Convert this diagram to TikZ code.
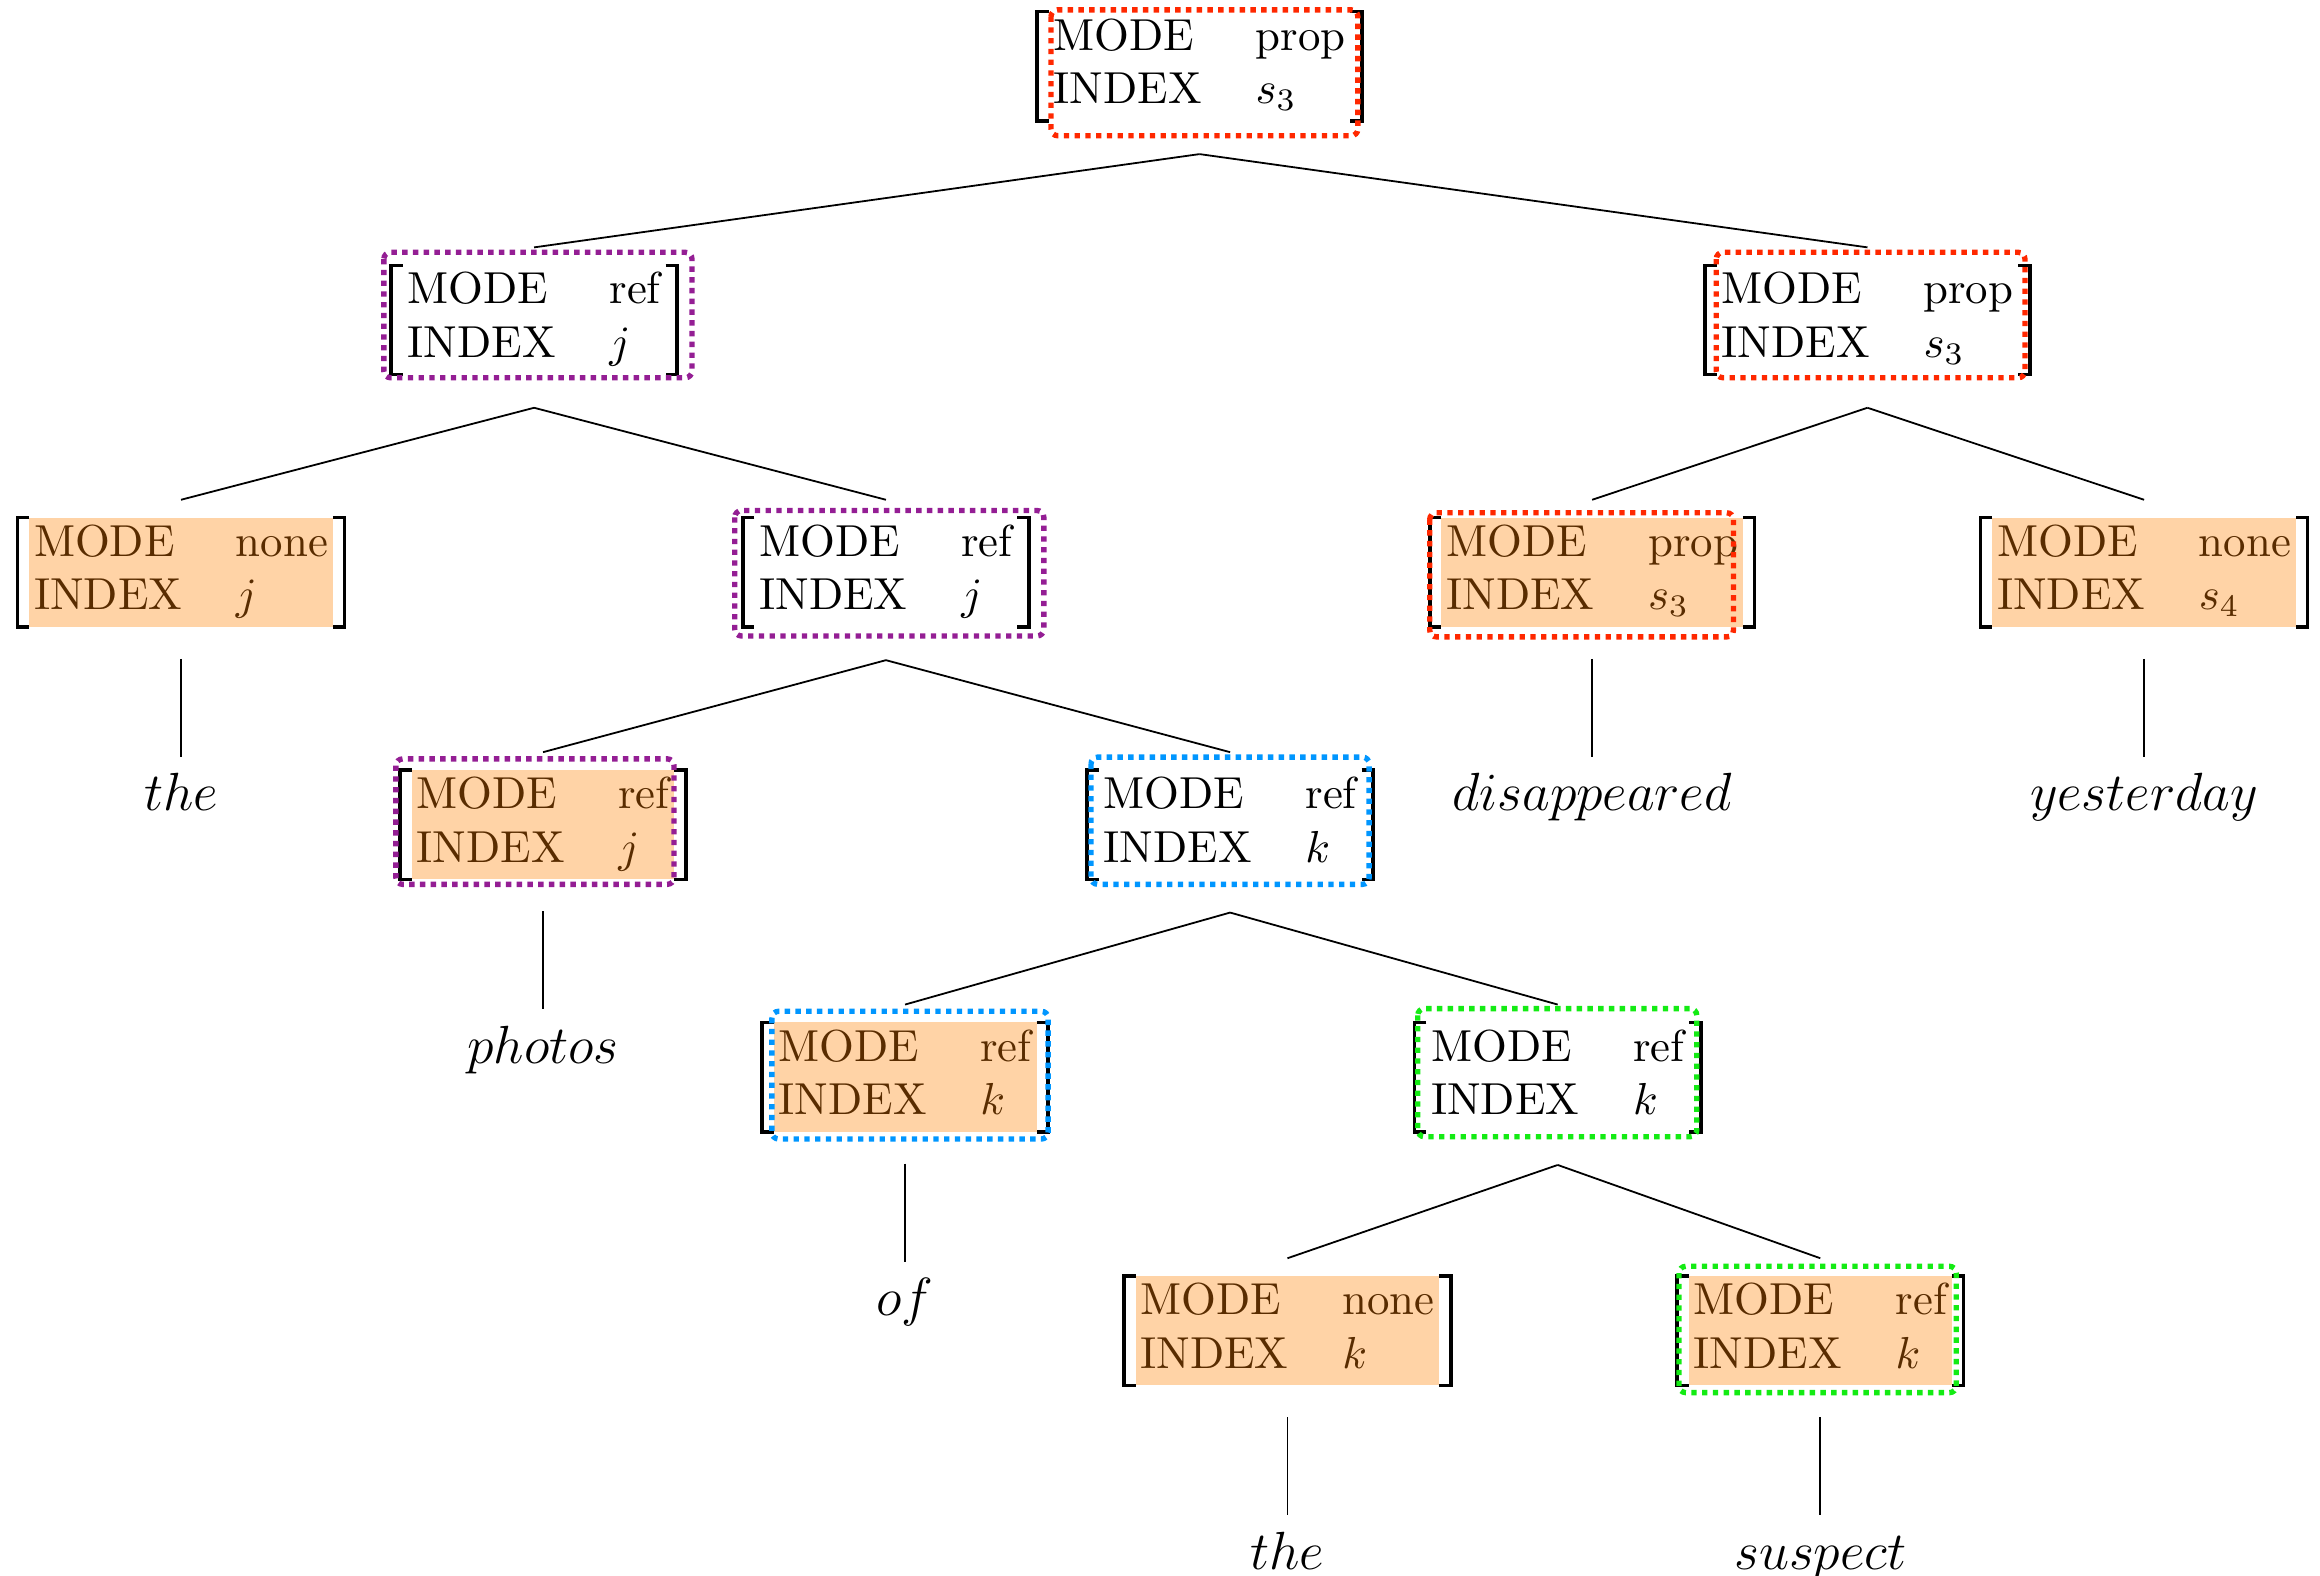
\documentclass[tikz,border=0pt]{standalone}
\usetikzlibrary{positioning}

\definecolor{hlred}{RGB}{255,40,0}
\definecolor{hlpurple}{RGB}{148,30,148}
\definecolor{hlblue}{RGB}{0,150,255}
\definecolor{hlgreen}{RGB}{20,235,20}

\newcommand{\avm}[2]{\begin{tabular}{@{}l@{\hspace{12pt}}l@{}}MODE & #1\\ INDEX & #2\end{tabular}}

\begin{document}
\begin{tikzpicture}[
    avm/.style={inner xsep=3.5pt, inner ysep=0pt},
    word/.style={font=\fontsize{12.5}{15}\selectfont, text height=8.7pt, text depth=2.7pt, inner sep=3.1pt},
    branch/.style={line width=0.4pt},
    bracket/.style={line width=0.8pt},
    shade/.style={fill=orange, fill opacity=0.35},
    hl/.style={line width=1.2pt, dash pattern=on 1.2pt off 1.2pt, rounded corners=1.5pt},
    node distance=29pt]

    \useasboundingbox (0,0) rectangle (18.2,-12.356);

    % 特征结构
    \node[avm] (s)     at (9.41,-0.52)  {\avm{prop}{$s_3$}};
    \node[avm] (np)    at (4.19,-2.51)  {\avm{ref}{$j$}};
    \node[avm] (vp)    at (14.65,-2.51) {\avm{prop}{$s_3$}};
    \node[avm] (det1)  at (1.42,-4.49)  {\avm{none}{$j$}};
    \node[avm] (nbar)  at (6.95,-4.49)  {\avm{ref}{$j$}};
    \node[avm] (verb)  at (12.49,-4.49) {\avm{prop}{$s_3$}};
    \node[avm] (adv)   at (16.82,-4.49) {\avm{none}{$s_4$}};
    \node[avm] (noun)  at (4.26,-6.47)  {\avm{ref}{$j$}};
    \node[avm] (pp)    at (9.65,-6.47)  {\avm{ref}{$k$}};
    \node[avm] (prep)  at (7.10,-8.45)  {\avm{ref}{$k$}};
    \node[avm] (np2)   at (12.22,-8.45) {\avm{ref}{$k$}};
    \node[avm] (det2)  at (10.10,-10.44) {\avm{none}{$k$}};
    \node[avm] (noun2) at (14.28,-10.44) {\avm{ref}{$k$}};

    % 词
    \node[word, below=of det1]  (w-the1)    {$the$};
    \node[word, below=of verb]  (w-dis)     {$disappeared$};
    \node[word, below=of adv]   (w-yes)     {$yesterday$};
    \node[word, below=of noun]  (w-photos)  {$photos$};
    \node[word, below=of prep]  (w-of)      {$of$};
    \node[word, below=of det2]  (w-the2)    {$the$};
    \node[word, below=of noun2] (w-suspect) {$suspect$};

    % 括号
    \foreach \nn in {s, np, vp, det1, nbar, verb, adv, noun, pp, prep, np2, det2, noun2} {
        \draw[bracket] ([xshift=2.6pt]\nn.north west) -- (\nn.north west) -- (\nn.south west) -- ++(2.6pt,0);
        \draw[bracket] ([xshift=-2.6pt]\nn.north east) -- (\nn.north east) -- (\nn.south east) -- ++(-2.6pt,0);
    }

    % 树枝
    \foreach \aa/\bb in {s/np, s/vp, np/det1, np/nbar, vp/verb, vp/adv, nbar/noun, nbar/pp,
                         pp/prep, pp/np2, np2/det2, np2/noun2} {
        \draw[branch] ([yshift=-7.4pt]\aa.south) -- ([yshift=4pt]\bb.north);
    }
    \foreach \aa/\bb in {det1/w-the1, verb/w-dis, adv/w-yes, noun/w-photos, prep/w-of,
                         det2/w-the2, noun2/w-suspect} {
        \draw[branch] ([yshift=-7.1pt]\aa.south) -- (\bb.north);
    }

    % 底色
    \foreach \nn in {det1, verb, adv, noun, prep, det2, noun2} {
        \fill[shade] ([xshift=2.6pt]\nn.north west) rectangle ([xshift=-2.6pt]\nn.south east);
    }

    % 虚线框
    \foreach \nn/\cc/\xl/\yt/\xr/\yb in {s/hlred/3.1/0.4/-0.9/-3.3,
                                         np/hlpurple/-1.6/2.9/3.3/-0.7,
                                         vp/hlred/2.5/2.9/-1.1/-0.7,
                                         nbar/hlpurple/-1.8/1.6/3.3/-2.0,
                                         verb/hlred/0/1.1/-4.7/-2.2,
                                         noun/hlpurple/-0.9/2.5/-2.7/-1.1,
                                         pp/hlblue/0.9/2.9/-0.9/-1.1,
                                         prep/hlblue/2.2/2.5/0/-1.6,
                                         np2/hlgreen/0.7/3.1/-0.9/-1.1,
                                         noun2/hlgreen/0.4/2.2/-1.6/-1.6} {
        \draw[hl, \cc] ([shift={(\xl pt,\yt pt)}]\nn.north west) rectangle ([shift={(\xr pt,\yb pt)}]\nn.south east);
    }
\end{tikzpicture}
\end{document}
